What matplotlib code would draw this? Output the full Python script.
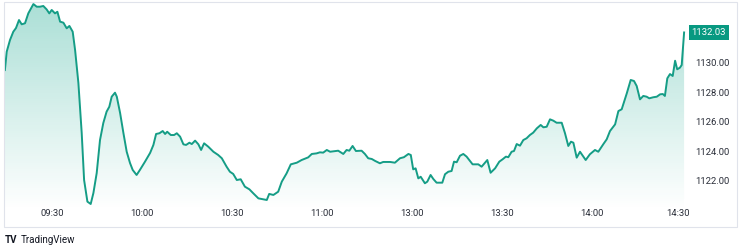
import numpy as np
import matplotlib.pyplot as plt
import matplotlib.transforms as mtransforms
from matplotlib.colors import LinearSegmentedColormap
from matplotlib.patches import Rectangle

plt.rcParams['font.family'] = ['Roboto', 'DejaVu Sans']

# trading minutes after 09:30 (lunch break removed) and price
minutes = [-15.7, -15.1, -14.0, -12.9, -12.0, -11.0, -10.1, -9.0, -7.9, -6.2,
           -5.1, -4.0, -2.9, -1.8, -0.9, -0.1, 1.0, 1.8, 2.7, 3.8,
           4.9, 5.8, 6.9, 7.7, 8.8, 9.9, 10.7, 11.8, 12.9, 13.8,
           14.9, 16.0, 17.1, 18.2, 19.1, 19.9, 21.0, 21.6, 22.7, 23.8,
           24.9, 26.0, 26.9, 28.2, 29.3, 31.0, 32.7, 33.8, 34.7, 35.8,
           36.9, 37.7, 38.4, 39.6, 40.7, 41.6, 42.7, 43.8, 44.7, 45.8,
           46.6, 47.7, 48.8, 49.7, 50.7, 52.1, 53.8, 55.4, 56.6, 58.2,
           59.3, 60.4, 61.6, 62.9, 64.3, 65.8, 67.1, 68.8, 71.6, 72.4,
           73.8, 75.4, 76.6, 78.2, 79.6, 81.6, 83.2, 85.4, 86.6, 88.2,
           89.3, 90.4, 91.6, 92.7, 95.4, 97.1, 98.2, 99.1, 100.2, 101.3,
           103.2, 104.3, 105.4, 106.6, 107.7, 109.3, 110.4, 112.7, 114.3, 116.0,
           117.3, 118.8, 119.6, 120.4, 121.2, 122.1, 122.9, 124.3, 125.1, 126.2,
           127.1, 128.2, 130.1, 131.0, 132.1, 133.2, 134.0, 134.9, 136.0, 137.1,
           138.2, 140.2, 142.1, 143.2, 145.1, 146.2, 147.7, 149.1, 150.2, 151.3,
           152.1, 153.2, 154.0, 154.9, 156.0, 157.1, 158.2, 159.3, 160.4, 161.6,
           162.9, 163.8, 164.9, 166.0, 167.1, 168.2, 169.9, 171.0, 172.1, 173.0,
           173.8, 174.9, 176.0, 177.9, 179.3, 181.0, 182.1, 183.8, 184.9, 186.0,
           187.7, 188.8, 189.9, 191.6, 192.9, 194.0, 194.9, 196.0, 197.1, 198.2,
           199.1, 200.4, 201.6, 202.7, 203.6, 204.3, 205.1, 206.0, 206.9, 207.7,
           208.4, 209.3, 209.9, 210.7]
prices = [1129.49, 1130.73, 1131.52, 1132.08, 1132.33, 1132.87, 1132.58, 1132.65, 1133.32, 1133.95,
          1133.77, 1133.77, 1133.82, 1133.59, 1133.32, 1133.55, 1133.32, 1133.43, 1132.76, 1132.69,
          1132.31, 1132.47, 1132.08, 1130.84, 1128.61, 1125.24, 1122.06, 1120.60, 1120.44, 1121.18,
          1122.53, 1124.76, 1125.91, 1126.68, 1127.01, 1127.69, 1127.96, 1127.69, 1126.59, 1125.24,
          1123.97, 1123.21, 1122.74, 1122.40, 1122.74, 1123.30, 1123.89, 1124.43, 1125.17, 1125.22,
          1125.37, 1125.17, 1125.32, 1125.10, 1125.10, 1125.22, 1124.99, 1124.47, 1124.43, 1124.58,
          1124.49, 1124.72, 1124.47, 1124.09, 1124.54, 1124.31, 1123.97, 1123.75, 1123.53, 1122.96,
          1122.62, 1122.47, 1122.06, 1122.11, 1121.61, 1121.43, 1121.16, 1120.82, 1120.71, 1121.12,
          1121.05, 1121.27, 1121.95, 1122.51, 1123.12, 1123.23, 1123.41, 1123.59, 1123.82, 1123.86,
          1123.93, 1123.91, 1124.09, 1123.97, 1124.04, 1123.82, 1124.09, 1124.04, 1124.36, 1124.02,
          1124.04, 1123.82, 1123.53, 1123.48, 1123.35, 1123.19, 1123.28, 1123.28, 1123.23, 1123.53,
          1123.60, 1123.82, 1123.75, 1122.78, 1122.85, 1122.17, 1122.28, 1121.84, 1121.95, 1122.40,
          1122.13, 1121.88, 1121.88, 1122.45, 1122.62, 1122.67, 1123.30, 1123.26, 1123.70, 1123.82,
          1123.64, 1123.12, 1123.12, 1122.96, 1123.41, 1122.55, 1122.85, 1123.30, 1123.46, 1123.64,
          1123.60, 1123.97, 1124.02, 1124.49, 1124.38, 1124.76, 1124.88, 1125.10, 1125.26, 1125.55,
          1125.78, 1125.62, 1125.66, 1126.16, 1126.07, 1125.93, 1125.93, 1125.22, 1124.36, 1124.65,
          1124.58, 1123.57, 1123.97, 1123.41, 1123.80, 1124.09, 1123.97, 1124.49, 1124.81, 1125.37,
          1125.82, 1126.72, 1126.84, 1127.92, 1128.82, 1128.75, 1128.41, 1127.51, 1127.74, 1127.69,
          1127.58, 1127.65, 1127.69, 1127.85, 1127.87, 1127.74, 1128.93, 1129.22, 1129.09, 1130.12,
          1129.54, 1129.65, 1129.83, 1132.03]

tick_minutes = [0, 30, 60, 90, 120, 150, 180, 210]
tick_labels = ['09:30', '10:00', '10:30', '11:00', '13:00', '13:30', '14:00', '14:30']
price_ticks = [1122, 1124, 1126, 1128, 1130]

green = '#159d86'
W, H = 739, 248

fig = plt.figure(figsize=(W / 100, H / 100), dpi=100)
ax = fig.add_axes([4 / W, (H - 227) / H, 684 / W, 225 / H])
ax.set_xlim(-16, 212)
ax.set_ylim(1118.885, 1134.088)

x = np.array(minutes)
y = np.array(prices)
ax.plot(x, y, color=green, lw=1.4, solid_joinstyle='round', zorder=3)

# gradient fill under the line
poly = ax.fill_between(x, y, 1118.885, color='none', lw=0)
cmap = LinearSegmentedColormap.from_list('g', [(0.133, 0.671, 0.580, 0.0), (0.133, 0.671, 0.580, 0.38)])
grad = np.linspace(0, 1, 256).reshape(-1, 1)
im = ax.imshow(grad, extent=[x[0], x[-1], 1120.0, y.max()], origin='lower',
               aspect='auto', cmap=cmap, zorder=2)
im.set_clip_path(poly.get_paths()[0], transform=ax.transData)

for s in ax.spines.values():
    s.set_visible(False)

ax.set_xticks(tick_minutes)
ax.set_xticklabels(tick_labels)
ax.tick_params(axis='x', length=0, pad=-13, labelsize=6.8, labelcolor='#2a2e39')
# last time label is nudged left, as in the reference
last = ax.get_xticklabels()[-1]
last.set_transform(last.get_transform() + mtransforms.ScaledTranslation(-4 / 100, 0, fig.dpi_scale_trans))
ax.yaxis.tick_right()
ax.set_yticks(price_ticks)
ax.set_yticklabels([f'{p:.2f}' for p in price_ticks])
ax.tick_params(axis='y', length=0, pad=5, labelsize=6.8, labelcolor='#2a2e39')

# last price tag
ax.annotate(f'{prices[-1]:.2f}', xy=(1.0, prices[-1]), xycoords=('axes fraction', 'data'),
            xytext=(2.5, 0), textcoords='offset points', ha='left', va='center',
            fontsize=6.8, color='white',
            bbox=dict(boxstyle='square,pad=0.3', fc='#089981', ec='none'))

# frame
fig.patches.append(Rectangle((4 / W, (H - 227) / H), 733 / W, 225 / H, transform=fig.transFigure,
                             fill=False, ec='#e0e3eb', lw=0.8))

fig.text(5 / W, 1 - 240 / H, 'TV', fontsize=7, fontweight='bold', color='#131722', va='center')
fig.text(21 / W, 1 - 240 / H, 'TradingView', fontsize=7, color='#131722', va='center')

fig.savefig('out.png', dpi=100)
